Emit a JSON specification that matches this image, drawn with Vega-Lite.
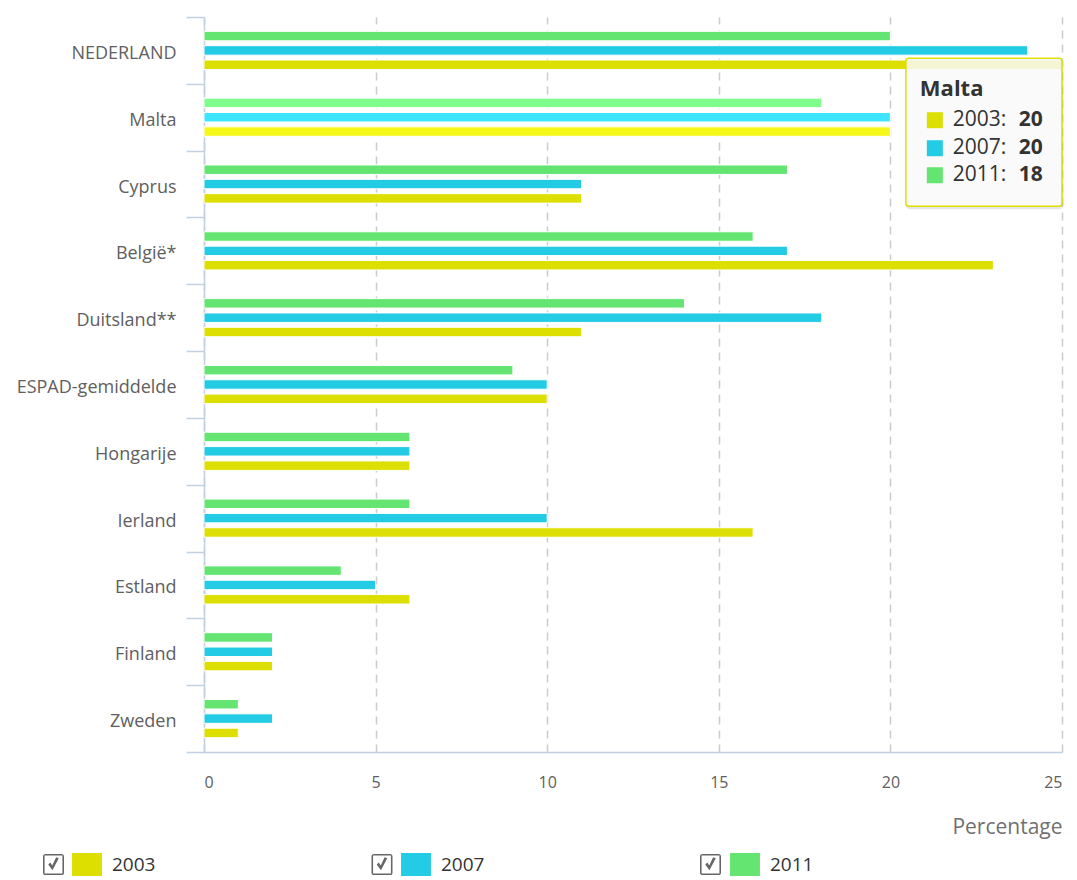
{
  "$schema": "https://vega.github.io/schema/vega-lite/v6.json",
  "width": 858,
  "height": 735,
  "autosize": {"type": "none"},
  "padding": {"left": 204, "top": 17, "right": 15, "bottom": 128},
  "background": "white",
  "config": {
    "view": {"stroke": null},
    "font": "Open Sans",
    "legend": {"padding": 0}
  },
  "datasets": {
    "checkboxes": [
      {"item": "a2003"},
      {"item": "a2007"},
      {"item": "a2011"}
    ]
  },
  "data": {
    "values": [
      {"country": "NEDERLAND", "year": "2003", "value": 25},
      {"country": "NEDERLAND", "year": "2007", "value": 24},
      {"country": "NEDERLAND", "year": "2011", "value": 20},
      {"country": "Malta", "year": "2003", "value": 20},
      {"country": "Malta", "year": "2007", "value": 20},
      {"country": "Malta", "year": "2011", "value": 18},
      {"country": "Cyprus", "year": "2003", "value": 11},
      {"country": "Cyprus", "year": "2007", "value": 11},
      {"country": "Cyprus", "year": "2011", "value": 17},
      {"country": "België*", "year": "2003", "value": 23},
      {"country": "België*", "year": "2007", "value": 17},
      {"country": "België*", "year": "2011", "value": 16},
      {"country": "Duitsland**", "year": "2003", "value": 11},
      {"country": "Duitsland**", "year": "2007", "value": 18},
      {"country": "Duitsland**", "year": "2011", "value": 14},
      {"country": "ESPAD-gemiddelde", "year": "2003", "value": 10},
      {"country": "ESPAD-gemiddelde", "year": "2007", "value": 10},
      {"country": "ESPAD-gemiddelde", "year": "2011", "value": 9},
      {"country": "Hongarije", "year": "2003", "value": 6},
      {"country": "Hongarije", "year": "2007", "value": 6},
      {"country": "Hongarije", "year": "2011", "value": 6},
      {"country": "Ierland", "year": "2003", "value": 16},
      {"country": "Ierland", "year": "2007", "value": 10},
      {"country": "Ierland", "year": "2011", "value": 6},
      {"country": "Estland", "year": "2003", "value": 6},
      {"country": "Estland", "year": "2007", "value": 5},
      {"country": "Estland", "year": "2011", "value": 4},
      {"country": "Finland", "year": "2003", "value": 2},
      {"country": "Finland", "year": "2007", "value": 2},
      {"country": "Finland", "year": "2011", "value": 2},
      {"country": "Zweden", "year": "2003", "value": 1},
      {"country": "Zweden", "year": "2007", "value": 2},
      {"country": "Zweden", "year": "2011", "value": 1}
    ]
  },
  "encoding": {
    "y": {
      "field": "country",
      "type": "nominal",
      "sort": ["NEDERLAND", "Malta", "Cyprus", "België*", "Duitsland**", "ESPAD-gemiddelde", "Hongarije", "Ierland", "Estland", "Finland", "Zweden"],
      "scale": {"paddingInner": 0, "paddingOuter": 0},
      "axis": {
        "title": null,
        "domainColor": "#C0D0E0",
        "domainWidth": 1.5,
        "ticks": true,
        "tickBand": "extent",
        "tickColor": "#C0D0E0",
        "tickSize": 18,
        "tickWidth": 1.5,
        "labelPadding": 10,
        "labelFont": "Open Sans",
        "labelFontSize": 18,
        "labelColor": "#606060",
        "labelOffset": 3,
        "grid": false
      }
    },
    "x": {
      "field": "value",
      "type": "quantitative",
      "scale": {"domain": [0, 25], "nice": false},
      "axis": {
        "values": [0, 5, 10, 15, 20, 25],
        "domainColor": "#C0D0E0",
        "domainWidth": 1.5,
        "ticks": false,
        "grid": true,
        "gridColor": "#cccccc",
        "gridDash": [8, 6],
        "gridWidth": 1.5,
        "labelPadding": 22,
        "labelFont": "Open Sans",
        "labelFontSize": 16,
        "labelColor": "#606060",
        "title": "Percentage",
        "titleAnchor": "end",
        "titleFont": "Open Sans",
        "titleFontSize": 21,
        "titleFontWeight": "normal",
        "titleColor": "#707070",
        "titlePadding": 26
      }
    }
  },
  "layer": [
    {
      "mark": {"type": "bar", "stroke": "white", "strokeWidth": 1},
      "encoding": {
        "yOffset": {"field": "year", "type": "nominal", "sort": ["2011", "2007", "2003"], "scale": {"paddingInner": 0.34, "paddingOuter": 1.03}},
        "color": {
          "field": "year",
          "type": "nominal",
          "scale": {"domain": ["2003", "2007", "2011"], "range": ["#DDDF00", "#24CBE5", "#64E572"]},
          "legend": {
            "title": null,
            "orient": "none",
            "direction": "horizontal",
            "columns": 3,
            "legendX": -128.5,
            "legendY": 836,
            "symbolType": "M-1.3,-1L1.3,-1L1.3,1L-1.3,1Z",
            "symbolSize": 529,
            "symbolStrokeWidth": 0,
            "symbolOpacity": 1,
            "labelOffset": 13.5,
            "labelFont": "Open Sans",
            "labelFontSize": 19,
            "labelColor": "#333333",
            "columnPadding": 245
          }
        }
      }
    },
    {
      "transform": [{"filter": "datum.country === 'Malta'"}],
      "mark": {"type": "bar", "stroke": "white", "strokeWidth": 1},
      "encoding": {
        "yOffset": {"field": "year", "type": "nominal", "sort": ["2011", "2007", "2003"], "scale": {"paddingInner": 0.34, "paddingOuter": 1.03}},
        "fill": {
          "field": "year",
          "type": "nominal",
          "scale": {"domain": ["2003", "2007", "2011"], "range": ["#F6F81A", "#3EE5FF", "#7EFF8C"]},
          "legend": null
        }
      }
    },
    {
      "data": {"name": "checkboxes"},
      "mark": {"type": "point", "filled": true, "size": 0, "opacity": 0, "color": "#666666", "strokeWidth": 0},
      "encoding": {
        "x": null,
        "y": null,
        "shape": {
          "field": "item",
          "type": "nominal",
          "scale": {"domain": ["a2003", "a2007", "a2011"], "range": [
            "M-1,-0.75Q-1,-1,-0.75,-1L0.75,-1Q1,-1,1,-0.75L1,0.75Q1,1,0.75,1L-0.75,1Q-1,1,-1,0.75ZM-0.85,-0.85L-0.85,0.85L0.85,0.85L0.85,-0.85ZM-0.5,0L-0.1,0.55L0.5,-0.6L0.25,-0.7L-0.12,0.1L-0.3,-0.2Z",
            "M-1,-0.75Q-1,-1,-0.75,-1L0.75,-1Q1,-1,1,-0.75L1,0.75Q1,1,0.75,1L-0.75,1Q-1,1,-1,0.75ZM-0.85,-0.85L-0.85,0.85L0.85,0.85L0.85,-0.85ZM-0.5,0L-0.1,0.55L0.5,-0.6L0.25,-0.7L-0.12,0.1L-0.3,-0.2Z",
            "M-1,-0.75Q-1,-1,-0.75,-1L0.75,-1Q1,-1,1,-0.75L1,0.75Q1,1,0.75,1L-0.75,1Q-1,1,-1,0.75ZM-0.85,-0.85L-0.85,0.85L0.85,0.85L0.85,-0.85ZM-0.5,0L-0.1,0.55L0.5,-0.6L0.25,-0.7L-0.12,0.1L-0.3,-0.2Z"
          ]},
          "legend": {
            "title": null,
            "orient": "none",
            "direction": "horizontal",
            "columns": 3,
            "legendX": -161,
            "legendY": 837,
            "symbolSize": 441,
            "symbolFillColor": "#666666",
            "symbolStrokeColor": "transparent",
            "symbolStrokeWidth": 0,
            "symbolOpacity": 1,
            "labelExpr": "''",
            "labelOffset": 0,
            "columnPadding": 307.5,
            "encode": {
              "symbols": {
                "update": {
                  "opacity": {"value": 1},
                  "fillOpacity": {"value": 1},
                  "fill": {"value": "#666666"},
                  "stroke": {"value": "transparent"},
                  "strokeWidth": {"value": 0},
                  "size": {"value": 441}
                }
              }
            }
          }
        }
      }
    },
    {
      "transform": [{"filter": "datum.country === 'Malta' && datum.year === '2003'"}],
      "layer": [
        {
          "mark": {"type": "bar", "height": 148, "yOffset": 16.5, "xOffset": 1.5, "fill": null, "stroke": "#000000", "strokeOpacity": 0.1, "strokeWidth": 3, "cornerRadius": 3},
          "encoding": {"x": {"datum": 20.45}, "x2": {"datum": 25}}
        },
        {
          "mark": {"type": "bar", "height": 148, "yOffset": 15, "fill": "#f9f9f9", "fillOpacity": 0.85, "stroke": "#DDDF00", "strokeWidth": 1.5, "cornerRadius": 3},
          "encoding": {"x": {"datum": 20.45}, "x2": {"datum": 25}}
        },
        {
          "mark": {"type": "text", "align": "left", "baseline": "middle", "dx": 14, "yOffset": -28, "font": "Open Sans", "fontSize": 22, "fontWeight": "bold", "color": "#333333"},
          "encoding": {"x": {"datum": 20.45}, "text": {"field": "country"}}
        }
      ]
    },
    {
      "transform": [{"filter": "datum.country === 'Malta' && datum.year === '2003'"}],
      "layer": [
        {
          "mark": {"type": "square", "filled": true, "size": 256, "color": "#DDDF00", "opacity": 1, "xOffset": 29, "yOffset": 3},
          "encoding": {"x": {"datum": 20.45}}
        },
        {
          "mark": {"type": "text", "align": "left", "baseline": "middle", "dx": 47, "yOffset": 3, "font": "Open Sans", "fontSize": 21, "color": "#333333", "text": "2003:"},
          "encoding": {"x": {"datum": 20.45}}
        },
        {
          "mark": {"type": "text", "align": "left", "baseline": "middle", "dx": 113, "yOffset": 3, "font": "Open Sans", "fontSize": 21, "fontWeight": "bold", "color": "#333333"},
          "encoding": {"x": {"datum": 20.45}, "text": {"field": "value"}}
        }
      ]
    },
    {
      "transform": [{"filter": "datum.country === 'Malta' && datum.year === '2007'"}],
      "layer": [
        {
          "mark": {"type": "square", "filled": true, "size": 256, "color": "#24CBE5", "opacity": 1, "xOffset": 29, "yOffset": 31},
          "encoding": {"x": {"datum": 20.45}}
        },
        {
          "mark": {"type": "text", "align": "left", "baseline": "middle", "dx": 47, "yOffset": 31, "font": "Open Sans", "fontSize": 21, "color": "#333333", "text": "2007:"},
          "encoding": {"x": {"datum": 20.45}}
        },
        {
          "mark": {"type": "text", "align": "left", "baseline": "middle", "dx": 113, "yOffset": 31, "font": "Open Sans", "fontSize": 21, "fontWeight": "bold", "color": "#333333"},
          "encoding": {"x": {"datum": 20.45}, "text": {"field": "value"}}
        }
      ]
    },
    {
      "transform": [{"filter": "datum.country === 'Malta' && datum.year === '2011'"}],
      "layer": [
        {
          "mark": {"type": "square", "filled": true, "size": 256, "color": "#64E572", "opacity": 1, "xOffset": 29, "yOffset": 58},
          "encoding": {"x": {"datum": 20.45}}
        },
        {
          "mark": {"type": "text", "align": "left", "baseline": "middle", "dx": 47, "yOffset": 58, "font": "Open Sans", "fontSize": 21, "color": "#333333", "text": "2011:"},
          "encoding": {"x": {"datum": 20.45}}
        },
        {
          "mark": {"type": "text", "align": "left", "baseline": "middle", "dx": 113, "yOffset": 58, "font": "Open Sans", "fontSize": 21, "fontWeight": "bold", "color": "#333333"},
          "encoding": {"x": {"datum": 20.45}, "text": {"field": "value"}}
        }
      ]
    }
  ]
}
